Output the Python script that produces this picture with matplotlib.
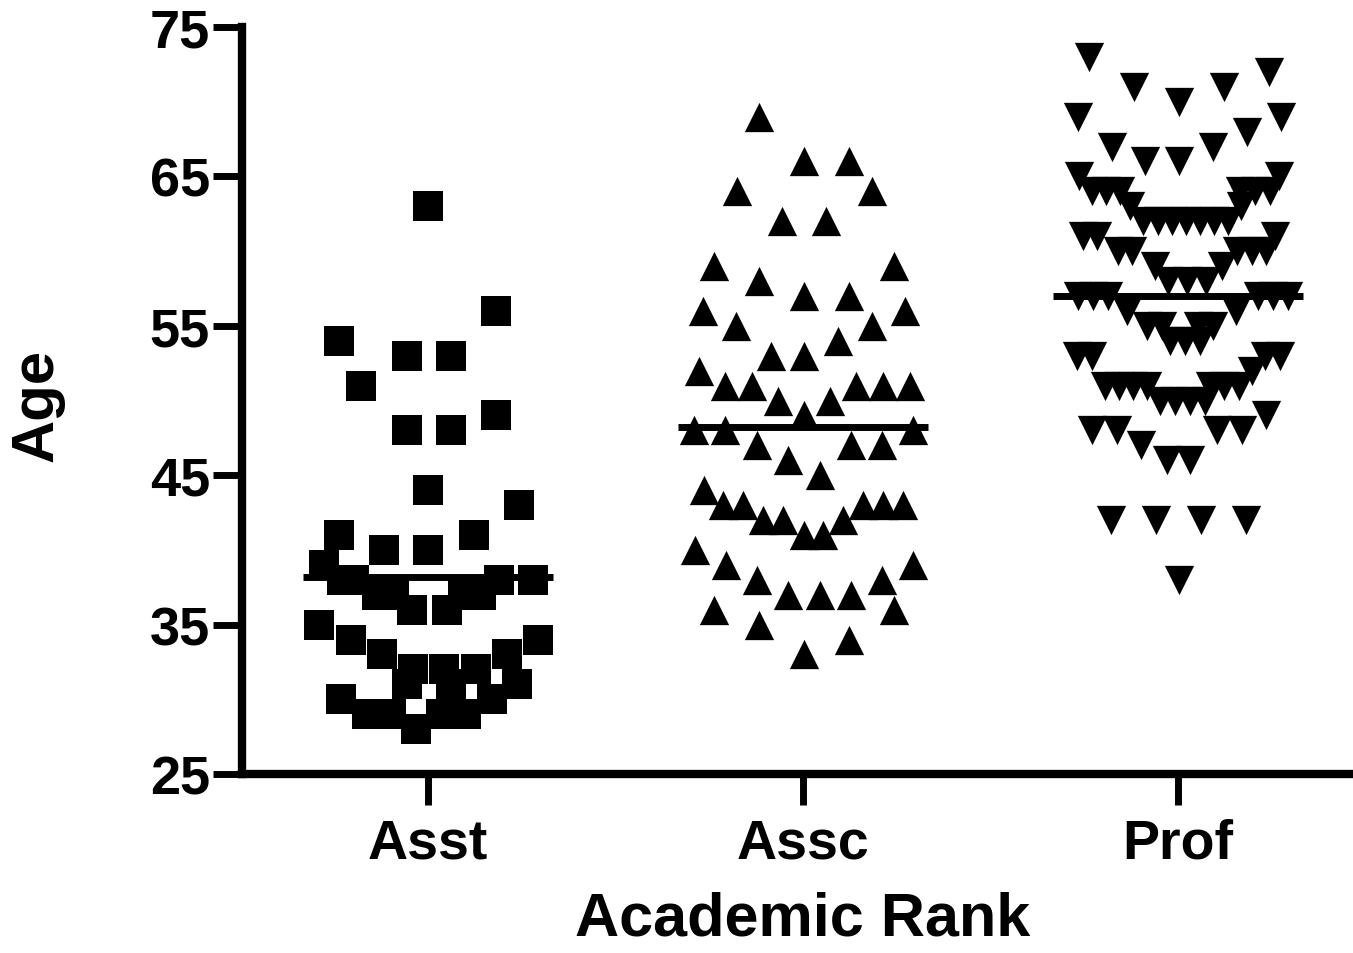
import numpy as np
import matplotlib
matplotlib.use("Agg")
import matplotlib.pyplot as plt

plt.rcParams["font.family"] = ["Liberation Sans", "DejaVu Sans"]
plt.rcParams["font.weight"] = "bold"

# categories on the x axis
ranks = ["Asst", "Assc", "Prof"]

# Assistant professors: age and horizontal scatter offset (category units)
asst_age = [63, 56, 54, 53, 53, 51, 49, 48, 48, 44, 43, 41, 41, 40, 40, 39,
            38, 38, 38, 38, 37, 37, 37, 37, 36, 36, 35, 34, 34, 33, 33,
            32, 32, 32, 31, 31, 31, 30, 30, 29, 29, 29, 29, 28]
asst_dx = [0.0, 0.181, -0.237, -0.056, 0.061, -0.179, 0.181, -0.056, 0.061, 0.0, 0.243,
           -0.237, 0.123, -0.117, 0.0, -0.277,
           -0.229, -0.197, 0.189, 0.28, -0.136, -0.091, 0.093, 0.141, -0.043, 0.051,
           -0.291, -0.205, 0.293, -0.123, 0.211,
           -0.04, 0.043, 0.128, -0.056, 0.061, 0.237, -0.232, 0.171,
           -0.163, -0.099, 0.035, 0.101, -0.032]

# Associate professors
assc_age = [69, 66, 66, 64, 64, 62, 62, 59, 59, 58, 57, 57, 56, 56, 55, 55, 54, 53, 53,
            52, 51, 51, 51, 51, 51, 50, 50, 49, 48, 48, 48, 47, 47, 47, 46, 45, 44,
            43, 43, 43, 43, 43, 42, 42, 42, 41, 41, 40, 39, 39, 38, 38,
            37, 37, 37, 36, 36, 35, 34, 33]
assc_dx = [-0.117, 0.003, 0.123, -0.176, 0.184, -0.056, 0.061, -0.237, 0.243, -0.117,
           0.003, 0.123, -0.267, 0.272, -0.179, 0.184, 0.093, -0.085, 0.003,
           -0.277, -0.208, -0.136, 0.141, 0.213, 0.285, -0.067, 0.072, 0.003,
           -0.291, -0.208, 0.293, -0.123, 0.128, 0.211, -0.04, 0.045, -0.264,
           -0.213, -0.16, 0.16, 0.213, 0.267, -0.107, -0.053, 0.107, 0.003, 0.053,
           -0.288, -0.205, 0.293, -0.123, 0.211,
           -0.04, 0.045, 0.128, -0.237, 0.243, -0.117, 0.123, 0.003]

# Full professors
prof_age = [73, 72, 71, 71, 70, 69, 69, 68, 67, 67, 66, 66, 65, 65,
            64, 64, 64, 64, 64, 64, 63, 63,
            62, 62, 62, 62, 62, 62, 62, 61, 61, 61, 60, 60, 60, 60, 60,
            59, 59, 58, 58, 58, 57, 57, 57, 57, 57, 57, 56, 56,
            55, 55, 55, 55, 54, 54, 54, 53, 53, 53, 53, 52,
            51, 51, 51, 51, 51, 51, 51, 50, 50, 50, 50, 49,
            48, 48, 48, 48, 47, 46, 46, 42, 42, 42, 42, 38]
prof_dx = [-0.237, 0.243, -0.117, 0.123, 0.003, -0.267, 0.275, 0.184, -0.176, 0.093,
           -0.088, 0.003, -0.264, 0.269,
           -0.229, -0.192, -0.155, 0.165, 0.205, 0.245, -0.128, 0.168,
           -0.093, -0.053, -0.016, 0.021, 0.059, 0.096, 0.133, -0.253, -0.216, 0.259,
           -0.16, -0.123, 0.157, 0.197, 0.235,
           -0.061, 0.117, -0.027, 0.024, 0.075,
           -0.267, -0.227, -0.187, 0.213, 0.253, 0.293, -0.136, 0.155,
           -0.083, -0.043, 0.053, 0.093, -0.021, 0.019, 0.059,
           -0.269, -0.229, 0.232, 0.272, 0.197,
           -0.195, -0.157, -0.12, -0.083, 0.085, 0.123, 0.163,
           -0.048, -0.008, 0.032, 0.072, 0.235,
           -0.229, -0.163, 0.104, 0.171, -0.099, -0.029, 0.032,
           -0.179, -0.059, 0.061, 0.181, 0.003]

# group means as drawn
mean_age = [38.2, 48.2, 57.0]

groups = [(asst_age, asst_dx, "s", 466), (assc_age, assc_dx, "^", 445), (prof_age, prof_dx, "v", 445)]

fig = plt.figure(figsize=(13.53, 9.54), dpi=100)
ax = fig.add_axes([242 / 1353, 179 / 954, 1 - 242 / 1353, 747 / 954])

for i, (age, dx, mk, size) in enumerate(groups):
    ax.scatter(i + np.array(dx), age, marker=mk, s=size, color="black",
               linewidths=0, clip_on=False, zorder=3)
    ax.plot([i - 0.333, i + 0.333], [mean_age[i], mean_age[i]], color="black",
            lw=5, solid_capstyle="butt", zorder=4)

ax.set_xlim(-0.496, 2.467)
ax.set_ylim(25, 75)
ax.set_yticks(np.arange(25, 76, 10))
ax.set_xticks(range(len(ranks)))
ax.set_xticklabels(ranks)

for side in ["top", "right"]:
    ax.spines[side].set_visible(False)
for side in ["left", "bottom"]:
    ax.spines[side].set_linewidth(6)
    ax.spines[side].set_capstyle("projecting")

ax.tick_params(axis="y", direction="out", length=21, width=5, labelsize=39, pad=2)
ax.tick_params(axis="x", direction="out", length=22, width=5, labelsize=40, pad=9)

ax.set_ylabel("Age", fontsize=43, fontweight="bold")
ax.set_xlabel("Academic Rank", fontsize=44, fontweight="bold")
ax.yaxis.label.set_va("center")
ax.yaxis.set_label_coords(-0.1845, 0.494)
ax.xaxis.label.set_va("center")
ax.xaxis.set_label_coords(0.505, -0.1935)

fig.savefig("out.png", dpi=100)
